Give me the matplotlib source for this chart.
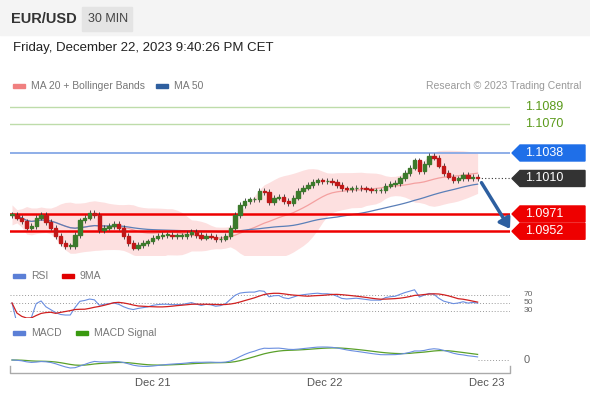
import numpy as np
import pandas as pd
import matplotlib
matplotlib.use("Agg")
import matplotlib.pyplot as plt
from matplotlib.patches import Polygon, Rectangle, FancyArrowPatch

closes = [1.0970,1.0967,1.0963,1.0956,1.0958,1.0967,1.0970,1.0962,1.0956,1.0947,1.0939,1.0936,1.0936,1.0948,1.0964,1.0967,1.0972,1.0970,1.0953,1.0956,1.0958,1.0960,1.0956,1.0947,1.0939,1.0934,1.0937,1.0939,1.0941,1.0945,1.0947,1.0948,1.0948,1.0947,1.0947,1.0947,1.0949,1.0951,1.0948,1.0945,1.0947,1.0946,1.0943,1.0944,1.0947,1.0956,1.0970,1.0981,1.0985,1.0987,1.0987,1.0996,1.0995,1.0984,1.0989,1.0990,1.0985,1.0983,1.0989,1.0996,1.1000,1.1003,1.1006,1.1008,1.1007,1.1007,1.1006,1.1003,1.0999,1.0998,1.0999,1.1000,1.0999,1.0998,1.0997,1.0997,1.0997,1.1002,1.1004,1.1005,1.1010,1.1016,1.1022,1.1030,1.1018,1.1026,1.1035,1.1033,1.1024,1.1016,1.1012,1.1008,1.1010,1.1014,1.1010,1.1012,1.1010]
level_values = [1.1089, 1.1070, 1.1038, 1.1010, 1.0971, 1.0952]
level_labels = ["1.1089", "1.1070", "1.1038", "1.1010", "1.0971", "1.0952"]
date_ticks = [29.1, 64.5, 97.9]
date_labels = ["Dec 21", "Dec 22", "Dec 23"]

W, H = 590, 400
STEP = 4.85
fig = plt.figure(figsize=(5.9, 4.0), dpi=100)
plt.rcParams['font.family'] = ['Liberation Sans', 'DejaVu Sans']

def ax_px(x0, y0, x1, y1):
    return fig.add_axes([x0 / W, 1 - y1 / H, (x1 - x0) / W, (y1 - y0) / H])

def fx(x): return x / W
def fy(y): return 1 - y / H

# header
fig.patches.append(Rectangle((0, fy(35)), 1, 35 / H, transform=fig.transFigure, color="#f4f4f4", zorder=0))
fig.patches.append(Rectangle((fx(82), fy(31)), 50 / W, 24 / H, transform=fig.transFigure, color="#e4e4e4", zorder=1))
fig.text(fx(11), fy(19), "EUR/USD", fontsize=10.5, fontweight="bold", color="#333", va="center")
fig.text(fx(88), fy(19), "30 MIN", fontsize=9, color="#444", va="center")
fig.text(fx(13), fy(48), "Friday, December 22, 2023 9:40:26 PM CET", fontsize=9.5, color="#222", va="center")
def leg(x, y, color, text):
    fig.patches.append(Rectangle((fx(x), fy(y + 2)), 12 / W, 4 / H, transform=fig.transFigure, color=color))
    fig.text(fx(x + 18), fy(y), text, fontsize=7.5, color="#777", va="center")
leg(13, 86, "#f08080", "MA 20 + Bollinger Bands")
leg(156, 86, "#2f5f9f", "MA 50")
fig.text(fx(581), fy(86), "Research © 2023 Trading Central", fontsize=7.5, color="#999", va="center", ha="right")
leg(13, 276, "#5b7fd6", "RSI")
leg(62, 276, "#e00000", "9MA")
leg(13, 333, "#5b7fd6", "MACD")
leg(76, 333, "#3a9a10", "MACD Signal")

c = pd.Series(closes)
n = len(c)
idx = np.arange(n)
o = c.shift(1).fillna(c.iloc[0])

def price_from_px(y): return 1.1038 - (y - 153) / 9.1 / 1000
xlim = ((10 - 12) / STEP, (510 - 12) / STEP)

ax = ax_px(10, 100, 510, 255)
ax.set_xlim(*xlim); ax.set_ylim(price_from_px(255), price_from_px(100))
ax.axis("off")
ma20 = c.rolling(20, min_periods=1).mean()
sd = c.rolling(20, min_periods=2).std().fillna(0.0004)
ax.fill_between(idx, ma20 - 2 * sd - 0.0003, ma20 + 2 * sd + 0.0003, color="#fde0e0", lw=0, zorder=1)
ax.plot(idx, ma20, color="#f4a0a0", lw=0.9, zorder=2)
ma50 = c.rolling(50, min_periods=1).mean()
ax.plot(idx, ma50, color="#5a7fb8", lw=0.9, zorder=2)
for lv, col, lw in [(1.1089, "#bedcaa", 1), (1.1070, "#bedcaa", 1), (1.1038, "#86a8e6", 1.3),
                    (1.0971, "#ee0000", 1.8), (1.0952, "#ee0000", 1.8)]:
    ax.axhline(lv, color=col, lw=lw, zorder=3)
for i in idx:
    up = c[i] >= o[i]
    col = "#3c7a2c" if up else "#c01818"
    lo, hi = min(o[i], c[i]), max(o[i], c[i])
    ax.vlines(i, lo - 0.0003, hi + 0.0003, color="#333", lw=0.6, zorder=4)
    ax.add_patch(Rectangle((i - 0.35, lo), 0.7, max(hi - lo, 0.00005), color=col, zorder=5))
last = n - 1
ax.plot([last, xlim[1] + 1], [closes[-1]] * 2, ls=(0, (1, 2)), color="#333", lw=0.8, clip_on=False)
ax.add_patch(FancyArrowPatch((last + 0.5, closes[-1] - 0.0002), (xlim[1] + 0.3, 1.0952),
                             arrowstyle="-|>,head_length=6,head_width=4", color="#2d5fa0", lw=2.5,
                             clip_on=False, zorder=6))

# right labels
def label_box(y, text, col):
    pts = [(fx(512), fy(y)), (fx(520), fy(y - 8)), (fx(585), fy(y - 8)), (fx(585), fy(y + 8)), (fx(520), fy(y + 8))]
    fig.patches.append(Polygon(pts, closed=True, transform=fig.transFigure, color=col))
    fig.text(fx(525), fy(y), text, color="white", fontsize=9, va="center")
def ypx(p): return 153 + (1.1038 - p) * 9100
fig.text(fx(525), fy(ypx(1.1089)), "1.1089", color="#5a9a1a", fontsize=9, va="center")
fig.text(fx(525), fy(ypx(1.1070)), "1.1070", color="#5a9a1a", fontsize=9, va="center")
label_box(ypx(1.1038), "1.1038", "#1f6fe8")
label_box(ypx(1.1010), "1.1010", "#333333")
label_box(ypx(1.0971), "1.0971", "#ee0000")
label_box(ypx(1.0952), "1.0952", "#ee0000")

# RSI
d = c.diff().fillna(0)
g = d.clip(lower=0).ewm(alpha=1 / 14, adjust=False).mean()
l = (-d.clip(upper=0)).ewm(alpha=1 / 14, adjust=False).mean()
rsi = 100 - 100 / (1 + g / l.replace(0, 1e-9))
rsi.iloc[0] = 50
rma = rsi.rolling(9, min_periods=1).mean()
ar = ax_px(10, 288, 510, 318)
ar.set_xlim(*xlim); ar.set_ylim(12.5, 87.5); ar.axis("off")
for lv in (70, 50, 30):
    ar.plot([xlim[0], xlim[1]], [lv, lv], ls=(0, (1, 2)), color="#999", lw=0.7)
ar.plot(idx, rsi, color="#6a8ee0", lw=0.8)
ar.plot(idx, rma, color="#d02020", lw=0.9)
for y, t in [(294, "70"), (302.5, "50"), (311, "30")]:
    fig.text(fx(524), fy(y), t, fontsize=6, color="#666", va="center")

# MACD
ema12 = c.ewm(span=12, adjust=False).mean()
ema26 = c.ewm(span=26, adjust=False).mean()
macd = ema12 - ema26
sig = macd.ewm(span=9, adjust=False).mean()
am = ax_px(10, 340, 510, 372)
m = max(abs(macd).max(), 1e-6)
am.set_xlim(*xlim); am.set_ylim(-m * 12 / 13, m * 20 / 13); am.axis("off")
am.plot([last, xlim[1]], [0, 0], ls=(0, (1, 2)), color="#999", lw=0.7)
am.plot(idx, sig, color="#5aa02a", lw=0.9)
am.plot(idx, macd, color="#6a8ee0", lw=0.8)
fig.text(fx(524), fy(360), "0", fontsize=8, color="#666", va="center")

# x axis
axx = ax_px(10, 366, 510, 373)
axx.set_xlim(*xlim); axx.set_ylim(0, 1); axx.axis("off")
axx.plot([xlim[0], xlim[0], xlim[1], xlim[1]], [1, 0, 0, 1], color="#aaa", lw=1, clip_on=False)
for t, lab in zip(date_ticks, date_labels):
    fig.text(fx(12 + STEP * t), fy(383), lab, fontsize=8, color="#555", ha="center", va="center")

fig.savefig("out.png", dpi=100)
